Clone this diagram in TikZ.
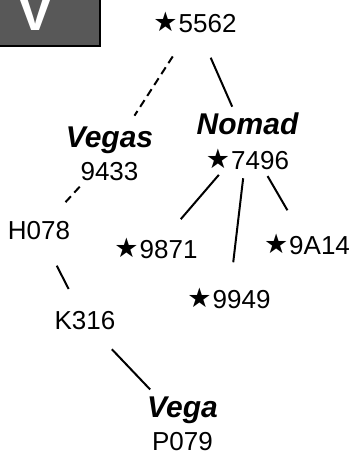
\documentclass[tikz,border=0pt]{standalone}
\usepackage{fontspec}
\setmainfont{Liberation Sans}
\newfontfamily\symfont{DejaVu Sans}
\newcommand\stargl{\raisebox{1pt}{\symfont\fontsize{27}{27}\selectfont ★}\hspace{1pt}}
\newcommand\bfitlbl{\fontsize{30}{33}\selectfont\bfseries\itshape}
\begin{document}
\begin{tikzpicture}[x=1pt,y=-1pt,
  lbl/.style={inner sep=0pt, font=\fontsize{26}{30}\selectfont},
  two/.style={inner sep=0pt, align=center, font=\fontsize{26}{#1}\selectfont},
  edgeline/.style={line width=2pt},
  dashedge/.style={line width=2pt, dash pattern=on 8pt off 5pt}
]
\useasboundingbox (0,0) rectangle (352,453);
\clip (0,0) rectangle (352,453);
\definecolor{badgegray}{RGB}{88,88,88}
% badge
\filldraw[fill=badgegray, draw=black, line width=2pt] (-5,-5) rectangle (100,46);
\node[inner sep=0pt, anchor=base, text=white, font=\fontsize{54}{54}\selectfont\bfseries] (badge) at (36,30) {V};
% nodes
\node[lbl] (n5562) at (195,22) {\stargl 5562};
\node[two=33] (vegas) at (109.5,154.3) {{\bfitlbl Vegas}\\9433};
\node[two=35.5] (nomad) at (247.5,141.5) {{\bfitlbl Nomad}\\\stargl 7496};
\node[lbl] (h078) at (39,231) {H078};
\node[lbl] (k316) at (85,321) {K316};
\node[two=33] (vega) at (182.5,423.5) {{\bfitlbl Vega}\\P079};
\node[lbl] (n9871) at (156,248) {\stargl 9871};
\node[lbl] (n9949) at (229,298) {\stargl 9949};
\node[lbl] (n9a14) at (307,244) {\stargl 9A14};
% edges
\draw[dashedge, shorten <=41pt, shorten >=46pt] (n5562.center) -- (vegas.center);
\draw[dashedge, shorten <=44pt, shorten >=38pt] (vegas.center) -- (h078.center);
\draw[edgeline, shorten <=39pt, shorten >=36pt] (h078.center) -- (k316.center);
\draw[edgeline, shorten <=39pt, shorten >=47pt] (k316.center) -- (vega.center);
\draw[edgeline, shorten <=39pt, shorten >=38pt] (n5562.center) -- (nomad.center);
\draw[edgeline, shorten <=44pt, shorten >=38pt] (nomad.center) -- (n9871.center);
\draw[edgeline, shorten <=37pt, shorten >=36pt] (nomad.center) -- (n9949.center);
\draw[edgeline, shorten <=40pt, shorten >=39pt] (nomad.center) -- (n9a14.center);
\end{tikzpicture}
\end{document}
